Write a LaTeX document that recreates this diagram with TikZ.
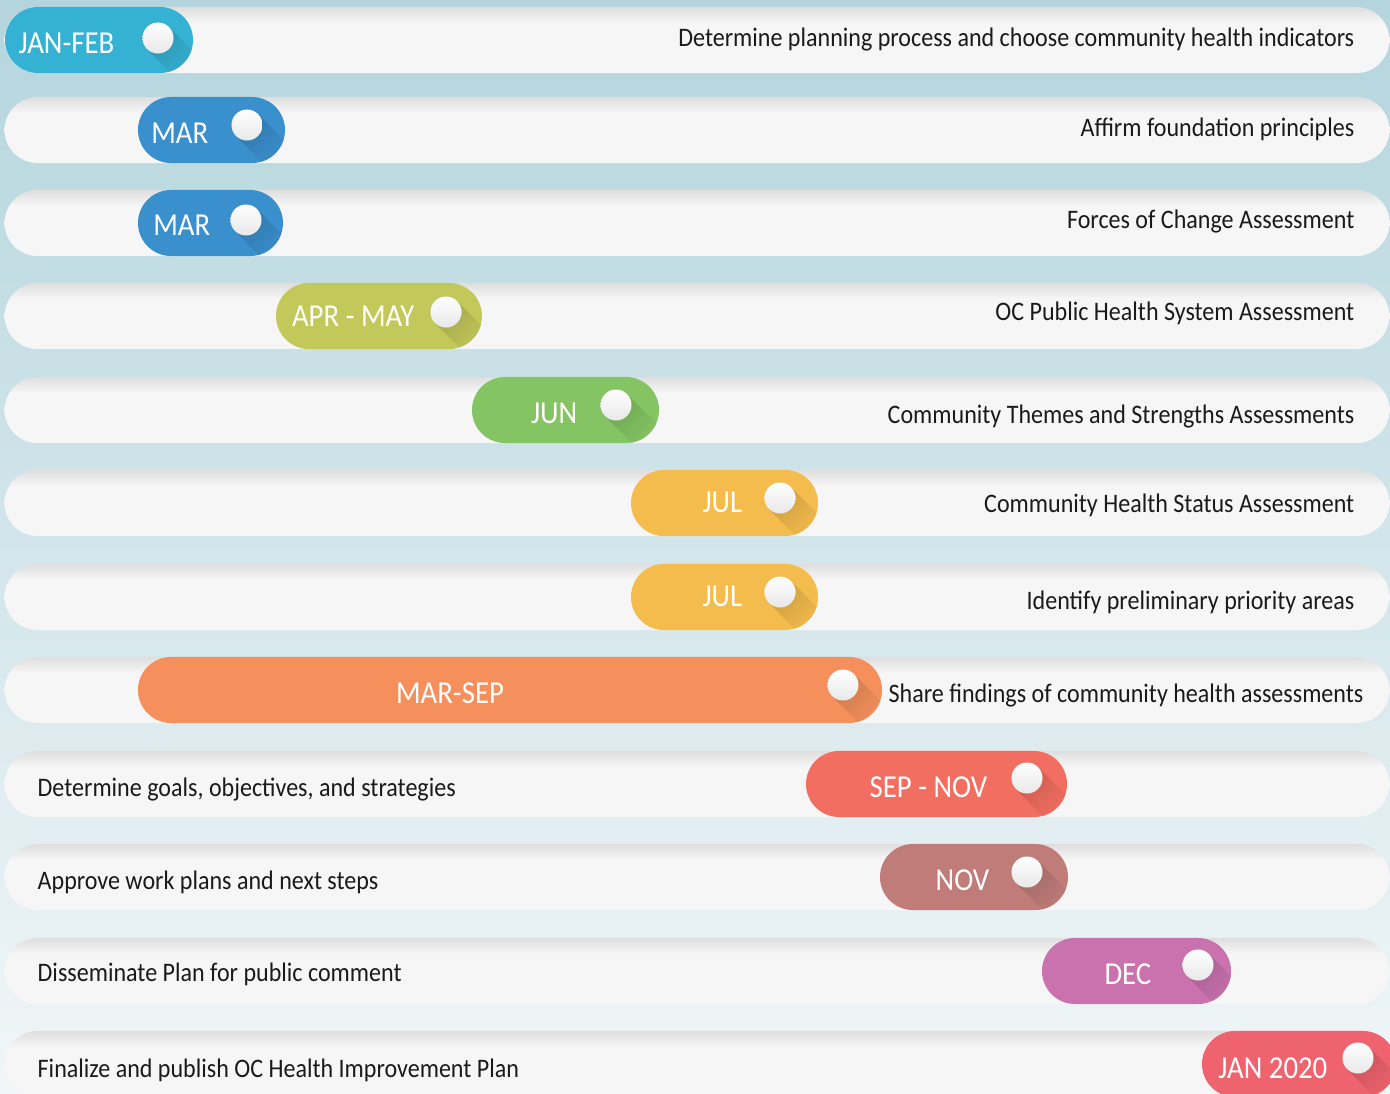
\documentclass[tikz,border=0pt]{standalone}
\usepackage{fontspec}
\setmainfont{Carlito}[FakeStretch=0.9]
\usetikzlibrary{shapes.misc}

\definecolor{bgtop}{HTML}{B4D5DD}
\definecolor{bgbot}{HTML}{F1F6F8}
\definecolor{barfill}{HTML}{F6F6F6}
\definecolor{bartop}{HTML}{DEDEDE}
\definecolor{tasktext}{HTML}{1A1A1A}
\definecolor{janfeb}{HTML}{35B2D3}
\definecolor{mar}{HTML}{3A8FCD}
\definecolor{aprmay}{HTML}{C3C85A}
\definecolor{jun}{HTML}{84C462}
\definecolor{jul}{HTML}{F4BC4C}
\definecolor{marsep}{HTML}{F5905C}
\definecolor{sepnov}{HTML}{F26E60}
\definecolor{nov}{HTML}{C07C79}
\definecolor{dec}{HTML}{C972AD}
\definecolor{jan}{HTML}{EF636E}

\pgfdeclareverticalshading{barshade}{100bp}{color(0bp)=(barfill); color(63bp)=(barfill); color(75bp)=(bartop); color(100bp)=(bartop)}

\tikzstyle{rowbar}=[rounded rectangle,shade,shading=barshade,minimum height=0.66cm,minimum width=13.84cm,inner sep=0pt]
\tikzstyle{datepill}=[rounded rectangle,minimum height=0.66cm,inner sep=0pt]
\tikzstyle{knobdot}=[circle,minimum size=0.31cm,inner sep=0pt,top color=white,bottom color=black!9]
\tikzstyle{datelabel}=[text=white,inner sep=0pt,font=\fontsize{9.1}{10}\selectfont]
\tikzstyle{tasklabel}=[text=tasktext,inner sep=0pt,font=\fontsize{7.6}{9}\selectfont]

\begin{document}
\begin{tikzpicture}[x=0.01cm,y=-0.01cm]

   \useasboundingbox (0,0) rectangle (1390,1093);
   \clip (0,0) rectangle (1390,1093);
   \fill[top color=bgtop, bottom color=bgbot] (0,0) rectangle (1390,1093);

%rows
    \foreach \n/\y in {1/40, 2/130, 3/223, 4/316, 5/410, 6/503, 7/597, 8/690, 9/784, 10/877, 11/971, 12/1064}
        \node[rowbar] (bar\n) at (697,\y) {};

%pills
    \foreach \n/\y/\xa/\xb/\kx/\ky/\col in {1/40/5/193/158/38/janfeb, 2/130/138/285/247/125/mar, 3/223/138/283/246/220/mar,
        4/316/276/482/446/312/aprmay, 5/410/472/659/616/405/jun, 6/503/631/818/780/498/jul, 7/597/631/818/780/592/jul,
        8/690/138/882/843/685/marsep, 9/784/806/1067/1027/778/sepnov, 10/877/880/1068/1027/872/nov,
        11/971/1042/1231/1198/965/dec, 12/1064/1202/1396/1358/1058/jan}
    {
        \node[datepill,fill=\col,minimum width={(\xb-\xa)*0.01cm}] (pill\n) at ({(\xa+\xb)/2},\y) {};
        % long shadow of the knob
        \begin{scope}
            \clip[rounded corners=0.33cm] (\xa,\y-33) rectangle (\xb,\y+33);
            \shade[top color=\col!84!black,bottom color=\col,shading angle=45]
                (\kx+11,\ky-11) -- (\kx-11,\ky+11) -- (\kx+21,\ky+43) -- (\kx+43,\ky+21) -- cycle;
        \end{scope}
        \node[knobdot] (knob\n) at (\kx,\ky) {};
    }

%dates
    \foreach \n/\x/\y/\lab in {1/115/53/JAN-FEB, 2/209/143/MAR, 3/211/235/MAR, 4/415/326/APR - MAY,
        5/578/423/JUN, 6/743/512/JUL, 7/743/606/JUL, 9/988/797/SEP - NOV, 10/990/890/NOV,
        11/1152/984/DEC, 12/1328/1078/JAN 2020}
        \node[datelabel,anchor=base east] (date\n) at (\x,\y) {\lab};
    \node[datelabel,anchor=base] (date8) at (450,703) {MAR-SEP};

%tasks right
    \foreach \n/\y/\desc in {1/46/Determine planning process and choose community health indicators,
        2/136/Affirm foundation principles, 3/228/Forces of Change Assessment,
        4/320/OC Public Health System Assessment, 5/423/Community Themes and Strengths Assessments,
        6/512/Community Health Status Assessment, 7/609/Identify preliminary priority areas}
        \node[tasklabel,anchor=base east] (task\n) at (1355,\y) {\desc};
    \node[tasklabel,anchor=base west] (task8) at (888,702) {Share findings of community health assessments};

%tasks left
    \foreach \n/\y/\desc in {9/796/{Determine goals, objectives, and strategies}, 10/889/Approve work plans and next steps,
        11/981/Disseminate Plan for public comment, 12/1077/Finalize and publish OC Health Improvement Plan}
        \node[tasklabel,anchor=base west] (task\n) at (37,\y) {\desc};

\end{tikzpicture}
\end{document}
